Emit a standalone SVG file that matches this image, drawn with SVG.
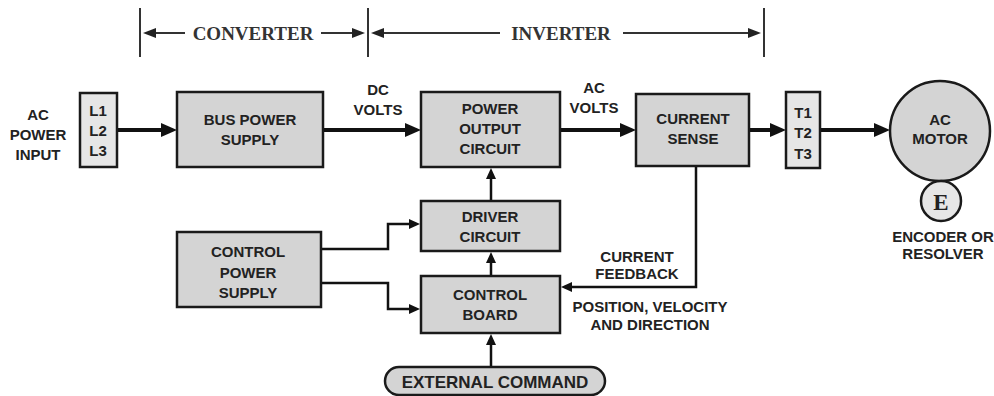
<svg xmlns="http://www.w3.org/2000/svg" width="994" height="396" viewBox="0 0 994 396">
<style>
.box{fill:#d4d4d4;stroke:#1a1a1a;stroke-width:2.5}
.lbox{fill:#e6e6e6;stroke:#1a1a1a;stroke-width:2.5}
.t{font-family:"Liberation Sans",Arial,sans-serif;font-weight:bold;font-size:15px;fill:#222;text-anchor:middle}
.s{font-family:"Liberation Serif","Times New Roman",serif;font-weight:bold;font-size:19px;fill:#333;text-anchor:middle}
.thick{stroke:#111;stroke-width:4;fill:none}
.thin{stroke:#111;stroke-width:2.5;fill:none}
.br{stroke:#333;stroke-width:2;fill:none}
</style>
<defs>
<marker id="ah" viewBox="0 0 16 14" refX="2" refY="7" markerWidth="16" markerHeight="14" markerUnits="userSpaceOnUse" orient="auto"><path d="M0,0 L16,7 L0,14 z" fill="#111"/></marker>
<marker id="as" viewBox="0 0 11 10" refX="1" refY="5" markerWidth="11" markerHeight="10" markerUnits="userSpaceOnUse" orient="auto"><path d="M0,0 L11,5 L0,10 z" fill="#111"/></marker>
<marker id="ab" viewBox="0 0 13 10" refX="1" refY="5" markerWidth="13" markerHeight="10" markerUnits="userSpaceOnUse" orient="auto"><path d="M0,0 L13,5 L0,10 z" fill="#222"/></marker>
</defs>

<g id="brackets">
<line class="br" x1="140" y1="8" x2="140" y2="57"/>
<line class="br" x1="368" y1="8" x2="368" y2="57"/>
<line class="br" x1="764" y1="8" x2="764" y2="57"/>
<line class="br" x1="185" y1="33" x2="155" y2="33" marker-end="url(#ab)"/>
<line class="br" x1="321" y1="33" x2="353" y2="33" marker-end="url(#ab)"/>
<line class="br" x1="500" y1="33" x2="383" y2="33" marker-end="url(#ab)"/>
<line class="br" x1="623" y1="33" x2="749" y2="33" marker-end="url(#ab)"/>
<text class="s" x="253" y="40">CONVERTER</text>
<text class="s" x="561" y="40">INVERTER</text>
</g>

<g id="connectors">
<line class="thick" x1="117" y1="130" x2="163" y2="130" marker-end="url(#ah)"/>
<line class="thick" x1="323" y1="130" x2="407" y2="130" marker-end="url(#ah)"/>
<line class="thick" x1="560" y1="130" x2="622" y2="130" marker-end="url(#ah)"/>
<line class="thick" x1="749" y1="130" x2="772" y2="130" marker-end="url(#ah)"/>
<line class="thick" x1="820" y1="130" x2="876" y2="130" marker-end="url(#ah)"/>
<polyline class="thin" points="321,249 388,249 388,224 410,224" marker-end="url(#as)"/>
<polyline class="thin" points="321,283 388,283 388,309 410,309" marker-end="url(#as)"/>
<line class="thin" x1="491" y1="276" x2="491" y2="262" marker-end="url(#as)"/>
<line class="thin" x1="491" y1="201" x2="491" y2="178" marker-end="url(#as)"/>
<line class="thin" x1="491" y1="367" x2="491" y2="344" marker-end="url(#as)"/>
<polyline class="thin" points="696,166 696,287 571,287" marker-end="url(#as)"/>
</g>

<g id="ac-power-input">
<text class="t" x="38" y="120">AC</text>
<text class="t" x="38" y="140">POWER</text>
<text class="t" x="38" y="160">INPUT</text>
</g>
<g id="l-terminals">
<rect class="lbox" x="80" y="93" width="37" height="74"/>
<text class="t" x="98" y="116">L1</text>
<text class="t" x="98" y="136">L2</text>
<text class="t" x="98" y="156">L3</text>
</g>
<g id="bus-power-supply">
<rect class="box" x="177" y="92" width="146" height="75"/>
<text class="t" x="250" y="125">BUS POWER</text>
<text class="t" x="250" y="145">SUPPLY</text>
</g>
<g id="dc-volts">
<text class="t" x="378" y="95">DC</text>
<text class="t" x="378" y="115">VOLTS</text>
</g>
<g id="power-output-circuit">
<rect class="box" x="421" y="92" width="139" height="75"/>
<text class="t" x="490" y="114">POWER</text>
<text class="t" x="490" y="134">OUTPUT</text>
<text class="t" x="490" y="154">CIRCUIT</text>
</g>
<g id="ac-volts">
<text class="t" x="594" y="93">AC</text>
<text class="t" x="594" y="113">VOLTS</text>
</g>
<g id="current-sense">
<rect class="box" x="636" y="94" width="113" height="72"/>
<text class="t" x="693" y="124">CURRENT</text>
<text class="t" x="693" y="144">SENSE</text>
</g>
<g id="t-terminals">
<rect class="lbox" x="786" y="92" width="34" height="76"/>
<text class="t" x="803" y="118">T1</text>
<text class="t" x="803" y="138">T2</text>
<text class="t" x="803" y="159">T3</text>
</g>
<g id="ac-motor">
<circle cx="940" cy="131" r="50" fill="#d4d4d4" stroke="#1a1a1a" stroke-width="2.5"/>
<text class="t" x="940" y="125">AC</text>
<text class="t" x="940" y="144">MOTOR</text>
</g>
<g id="encoder">
<circle cx="941" cy="201" r="20" fill="#e6e6e6" stroke="#1a1a1a" stroke-width="2.5"/>
<text class="s" x="941" y="210" style="font-size:23px;fill:#222">E</text>
<text class="t" x="943" y="242">ENCODER OR</text>
<text class="t" x="943" y="259">RESOLVER</text>
</g>
<g id="driver-circuit">
<rect class="box" x="421" y="201" width="139" height="50"/>
<text class="t" x="490" y="222">DRIVER</text>
<text class="t" x="490" y="242">CIRCUIT</text>
</g>
<g id="control-board">
<rect class="box" x="421" y="276" width="139" height="57"/>
<text class="t" x="490" y="300">CONTROL</text>
<text class="t" x="490" y="320">BOARD</text>
</g>
<g id="control-power-supply">
<rect class="box" x="177" y="232" width="144" height="75"/>
<text class="t" x="248" y="257">CONTROL</text>
<text class="t" x="248" y="278">POWER</text>
<text class="t" x="248" y="298">SUPPLY</text>
</g>
<g id="current-feedback">
<text class="t" x="637" y="262">CURRENT</text>
<text class="t" x="637" y="279">FEEDBACK</text>
</g>
<g id="position-velocity">
<text class="t" x="650" y="312">POSITION, VELOCITY</text>
<text class="t" x="650" y="330">AND DIRECTION</text>
</g>
<g id="external-command">
<rect class="box" x="385" y="367" width="220" height="28" rx="14"/>
<text class="t" x="495" y="388" style="font-size:17px">EXTERNAL COMMAND</text>
</g>
</svg>
